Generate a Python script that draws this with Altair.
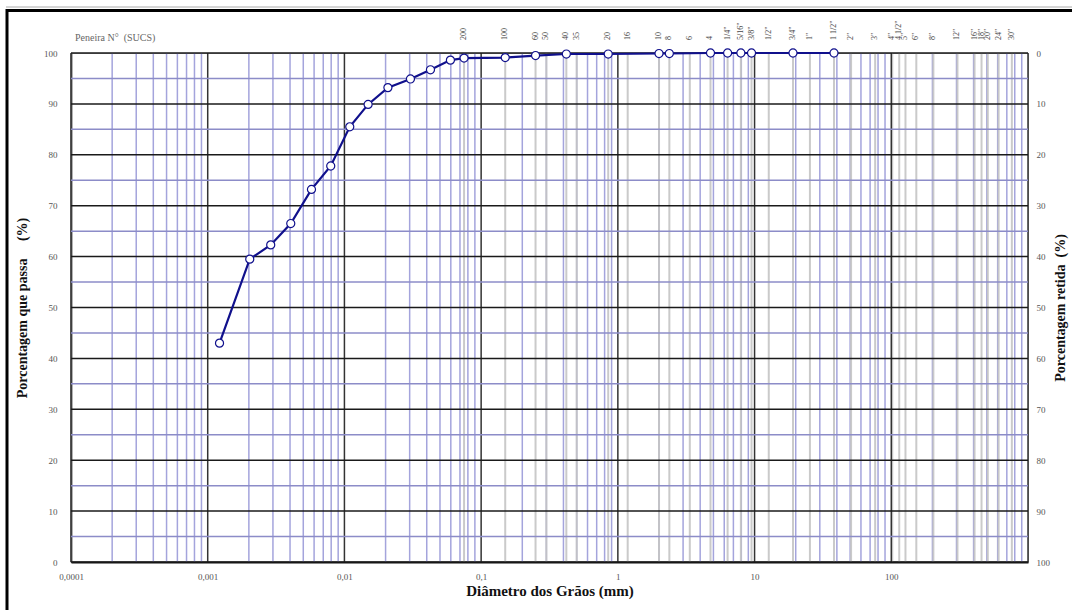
import altair as alt
import pandas as pd

# ---- data ----
diameter_mm = [0.00122, 0.00203, 0.00289, 0.00405, 0.00574, 0.00794, 0.01094, 0.0149,
               0.0208, 0.0304, 0.0426, 0.0596, 0.075, 0.15, 0.25, 0.42, 0.85, 2.0,
               2.38, 4.76, 6.35, 7.94, 9.5, 19.1, 38.1]
passing_pct = [43.0, 59.5, 62.3, 66.5, 73.2, 77.8, 85.5, 89.9, 93.2, 94.9, 96.7, 98.6,
               99.0, 99.1, 99.5, 99.8, 99.8, 99.9, 99.9, 100, 100, 100, 100, 100, 100]

sieve_mm = [0.075, 0.15, 0.25, 0.30, 0.42, 0.50, 0.85, 1.18, 2.0, 2.38, 3.36, 4.76,
            6.35, 7.94, 9.5, 12.7, 19.1, 25.4, 38.1, 50.8, 76.2, 101.6, 114.3, 127,
            152.4, 203.2, 304.8, 406.4, 457.2, 508, 609.6, 762]
sieve_labels = ["200", "100", "60", "50", "40", "35", "20", "16", "10", "8", "6", "4",
                '1/4"', '5/16"', '3/8"', '1/2"', '3/4"', '1"', '1 1/2"', '2"', '3"', '4"',
                '4 1/2"', '5"', '6"', '8"', '12"', '16"', '18"', '20"', '24"', '30"']

decade_lines = [0.0001, 0.001, 0.01, 0.1, 1, 10, 100, 1000]
minor_lines = [k * d for d in [0.0001, 0.001, 0.01, 0.1, 1, 10, 100] for k in range(2, 10)]
x_tick_values = [0.0001, 0.001, 0.01, 0.1, 1, 10, 100]
h_major = list(range(0, 101, 10))
h_minor = list(range(5, 100, 10))

SERIF = "Liberation Serif"
NAVY = "#10108c"
NB = "\u00a0"

xscale = alt.Scale(type="log", domain=[0.0001, 1000], nice=False)
yscale = alt.Scale(domain=[0, 100], nice=False, zero=False)

xaxis = alt.Axis(values=x_tick_values, labelExpr="replace(toString(datum.value), '.', ',')",
                 title="Diâmetro dos Grãos (mm)", grid=False, ticks=False,
                 domain=True, domainColor="#111", domainWidth=2,
                 labelFont=SERIF, labelFontSize=9, labelColor="#555", labelPadding=10,
                 titleFont=SERIF, titleFontSize=15, titleFontWeight="bold", titleColor="#111",
                 titlePadding=2, labelFlush=False)
yaxis = alt.Axis(values=h_major, title="Porcentagem que passa" + NB * 5 + "(%)",
                 grid=False, ticks=False,
                 domain=True, domainColor="#666", domainWidth=2,
                 labelFont=SERIF, labelFontSize=9, labelColor="#555", labelPadding=14,
                 titleFont=SERIF, titleFontSize=14, titleFontWeight="bold", titleColor="#111",
                 titlePadding=14)
yaxis_r = alt.Axis(values=h_major, orient="right", labelExpr="100 - datum.value",
                   title="Porcentagem retida" + NB * 2 + "(%)", grid=False, ticks=False, domain=False,
                   labelFont=SERIF, labelFontSize=9, labelColor="#555", labelPadding=8,
                   titleFont=SERIF, titleFontSize=14, titleFontWeight="bold", titleColor="#111",
                   titleAngle=270, titlePadding=18)

X = lambda f: alt.X(f"{f}:Q", scale=xscale, axis=xaxis)
Y = lambda f: alt.Y(f"{f}:Q", scale=yscale, axis=yaxis)

curve_df = pd.DataFrame({"d": diameter_mm, "p": passing_pct})
sieve_df = pd.DataFrame({"d": sieve_mm, "label": sieve_labels})

v_minor = alt.Chart(pd.DataFrame({"d": minor_lines})).mark_rule(
    color="#a4a4dc", strokeWidth=1.5).encode(x=X("d"))
v_sieve = alt.Chart(sieve_df).mark_rule(color="#c4c4c4", strokeWidth=2, opacity=0.9).encode(x=X("d"))
v_major = alt.Chart(pd.DataFrame({"d": decade_lines})).mark_rule(
    color="#333", strokeWidth=1.5).encode(x=X("d"))
h_min = alt.Chart(pd.DataFrame({"p": h_minor})).mark_rule(
    color="#8c8cc8", strokeWidth=1.5).encode(y=Y("p"))
h_maj = alt.Chart(pd.DataFrame({"p": h_major})).mark_rule(
    color="#1a1a1a", strokeWidth=1.5).encode(y=Y("p"))

line = alt.Chart(curve_df).mark_line(color=NAVY, strokeWidth=2.2, clip=False).encode(
    x=X("d"), y=Y("p"))
pts = alt.Chart(curve_df).mark_point(shape="circle", filled=True, fill="white", stroke=NAVY,
                                     strokeWidth=1.2, size=65, opacity=1, clip=False).encode(
    x=X("d"), y=Y("p"))

sieve_text = alt.Chart(sieve_df).mark_text(
    angle=270, align="left", baseline="middle", font=SERIF, fontSize=8, color="#444",
    clip=False).encode(x=X("d"), y=alt.value(-13), text="label:N")

header = alt.Chart(pd.DataFrame({"t": ["Peneira N°" + NB * 2 + "(SUCS)"]})).mark_text(
    align="left", baseline="middle", font=SERIF, fontSize=10, color="#666").encode(
    x=alt.value(4), y=alt.value(-15), text="t:N")

frame_left = alt.Chart(pd.DataFrame({"a": [0]})).mark_rule(color="#000", strokeWidth=3).encode(
    x=alt.value(-64), y=alt.value(-44), y2=alt.value(557))
frame_top = alt.Chart(pd.DataFrame({"a": [0]})).mark_rule(color="#000", strokeWidth=3).encode(
    x=alt.value(-65), x2=alt.value(1001), y=alt.value(-42.5))
frame_top2 = alt.Chart(pd.DataFrame({"a": [0]})).mark_rule(color="#aaa", strokeWidth=1).encode(
    x=alt.value(-65), x2=alt.value(1001), y=alt.value(-46))

right_axis = alt.Chart(pd.DataFrame({"p": h_major})).mark_point(opacity=0).encode(
    y=alt.Y("p:Q", scale=yscale, axis=yaxis_r))

inner = alt.layer(v_minor, v_sieve, v_major, h_min, h_maj, line, pts, sieve_text, header,
                  frame_left, frame_top, frame_top2)

chart = alt.layer(inner, right_axis).resolve_axis(y="independent").properties(
    width=957, height=509,
    autosize=alt.AutoSizeParams(type="none"),
    padding={"left": 71, "top": 53, "right": 44, "bottom": 48},
    background="white",
).configure_view(stroke="#999", strokeWidth=1)

chart.save("out.html", embed_options={"renderer": "svg", "actions": False})
